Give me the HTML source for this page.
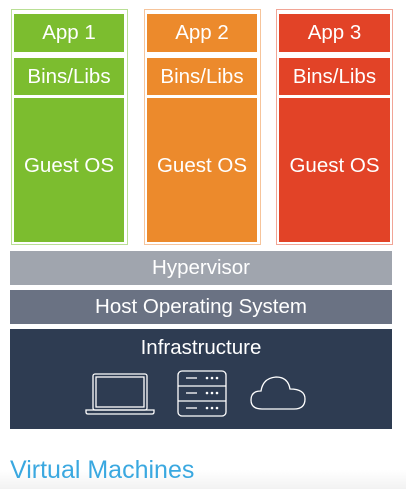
<!DOCTYPE html>
<html><head><style>
body{margin:0;width:406px;height:489px;background:linear-gradient(#fff 0,#fff 470px,#f2f2f2 489px);position:relative;overflow:hidden;font-family:"Liberation Sans",sans-serif;}
div{position:absolute;box-sizing:border-box;}
.o{top:9px;height:236px;width:117px;border:1px solid;}
.b{color:#fff;display:flex;align-items:center;justify-content:center;font-size:20.5px;white-space:nowrap;}
.g{padding-bottom:8px;}
</style></head><body>
<div class="o" style="left:11px;border-color:#b9df95"></div>
<div class="o" style="left:144px;border-color:#f6c49b"></div>
<div class="o" style="left:276px;border-color:#f1a596"></div>

<div class="b" style="left:14px;top:14px;width:110px;height:38px;background:#7cbd2f">App 1</div>
<div class="b" style="left:14px;top:58px;width:110px;height:37px;background:#7cbd2f">Bins/Libs</div>
<div class="b g" style="left:14px;top:98px;width:110px;height:144px;background:#7cbd2f">Guest OS</div>

<div class="b" style="left:147px;top:14px;width:110px;height:38px;background:#ec8a2c">App 2</div>
<div class="b" style="left:147px;top:58px;width:110px;height:37px;background:#ec8a2c">Bins/Libs</div>
<div class="b g" style="left:147px;top:98px;width:110px;height:144px;background:#ec8a2c">Guest OS</div>

<div class="b" style="left:279px;top:14px;width:111px;height:38px;background:#e24327">App 3</div>
<div class="b" style="left:279px;top:58px;width:111px;height:37px;background:#e24327">Bins/Libs</div>
<div class="b g" style="left:279px;top:98px;width:111px;height:144px;background:#e24327">Guest OS</div>

<div class="b" style="left:10px;top:251px;width:382px;height:34px;background:#a0a5ae">Hypervisor</div>
<div class="b" style="left:10px;top:290px;width:382px;height:34px;background:#6a7283">Host Operating System</div>
<div style="left:10px;top:329px;width:382px;height:100px;background:#2e3c52;"></div>
<div class="b" style="left:10px;top:333px;width:382px;height:30px;">Infrastructure</div>
<svg style="position:absolute;left:0;top:0" width="406" height="489" fill="none" stroke="#fff" stroke-width="1.3">
<rect x="93" y="374" width="54" height="36" rx="2"/>
<rect x="96" y="377" width="48" height="30"/>
<path d="M86 410 H154 V412 Q154 414 152 414 H88 Q86 414 86 412 Z"/>
<rect x="178" y="371" width="48" height="45" rx="4"/>
<line x1="178" y1="386" x2="226" y2="386"/><line x1="178" y1="401" x2="226" y2="401"/>
<line x1="186" y1="378" x2="197" y2="378"/><line x1="186" y1="393" x2="197" y2="393"/><line x1="186" y1="408" x2="197" y2="408"/>
<g fill="#fff" stroke="none">
<circle cx="207" cy="378" r="1.3"/><circle cx="212" cy="378" r="1.3"/><circle cx="217" cy="378" r="1.3"/>
<circle cx="207" cy="393" r="1.3"/><circle cx="212" cy="393" r="1.3"/><circle cx="217" cy="393" r="1.3"/>
<circle cx="207" cy="408" r="1.3"/><circle cx="212" cy="408" r="1.3"/><circle cx="217" cy="408" r="1.3"/>
</g>
<path d="M262 409 Q251 409 251 400 Q251 391 261 391 Q263 378 276 377 Q288 377 290 389 Q305 389 305 399 Q305 409 294 409 Z"/>
</svg>
<div style="left:10px;top:456px;font-size:25px;color:#3aa8e0;white-space:nowrap;">Virtual Machines</div>
</body></html>
